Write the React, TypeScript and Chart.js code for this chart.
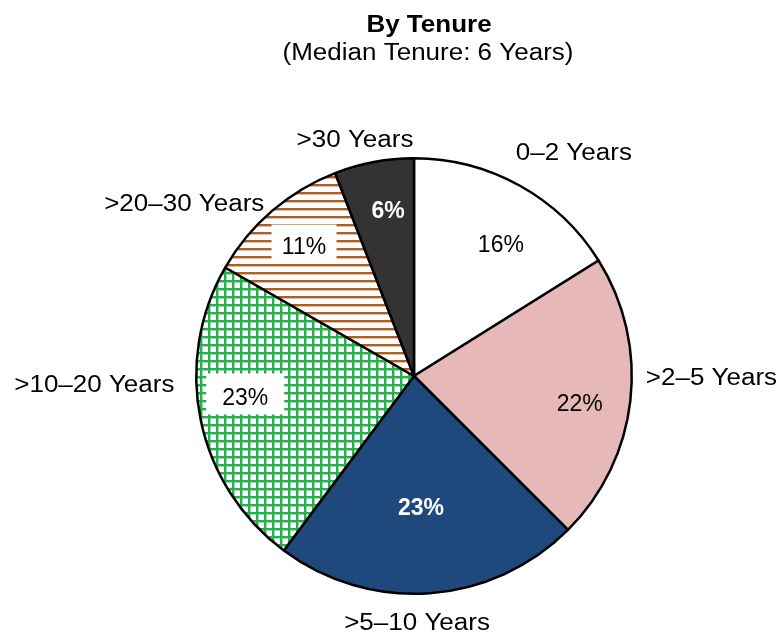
import React, { useEffect, useRef } from "react";
import { Chart, registerables } from "chart.js";

Chart.register(...registerables);

const categories = ["0–2 Years", ">2–5 Years", ">5–10 Years", ">10–20 Years", ">20–30 Years", ">30 Years"];
const shares = [16.1, 21.4, 22.7, 23.1, 10.8, 5.9];
const shareLabels = ["16%", "22%", "23%", "23%", "11%", "6%"];
const titleText = "By Tenure";
const subtitleText = "(Median Tenure: 6 Years)";

// layout of labels, as fractions of the pie radius from its centre (x, baseline y)
const catPos = [
  [0.734, -0.991],
  [1.366, 0.041],
  [0.014, 1.165],
  [-1.468, 0.073],
  [-1.055, -0.757],
  [-0.271, -1.05],
];
const pctPos = [
  [0.399, -0.569],
  [0.761, 0.161],
  [0.032, 0.638],
  [-0.775, 0.133],
  [-0.505, -0.56],
  [-0.119, -0.725],
];
const pctStyle = [
  { color: "#000", bold: false, box: null },
  { color: "#000", bold: false, box: null },
  { color: "#fff", bold: true, box: null },
  { color: "#000", bold: false, box: [78, 41] },
  { color: "#000", bold: false, box: [65, 37] },
  { color: "#fff", bold: true, box: null },
];

const FONT = "'Liberation Sans', Arial, Helvetica, sans-serif";
const SX = 1.13;

function gridPattern(ctx: CanvasRenderingContext2D) {
  const c = document.createElement("canvas");
  c.width = 8;
  c.height = 8;
  const g = c.getContext("2d")!;
  g.fillStyle = "#ffffff";
  g.fillRect(0, 0, 8, 8);
  g.fillStyle = "#9fdcb2";
  g.fillRect(2, 0, 1, 8);
  g.fillRect(0, 2, 8, 1);
  g.fillStyle = "#22b24c";
  g.fillRect(0, 0, 2, 8);
  g.fillRect(0, 0, 8, 2);
  return ctx.createPattern(c, "repeat")!;
}

function stripePattern(ctx: CanvasRenderingContext2D) {
  const c = document.createElement("canvas");
  c.width = 8;
  c.height = 8;
  const g = c.getContext("2d")!;
  g.fillStyle = "#ffffff";
  g.fillRect(0, 0, 8, 8);
  g.fillStyle = "#e4bd9c";
  g.fillRect(0, 2, 8, 1);
  g.fillStyle = "#ad5e22";
  g.fillRect(0, 0, 8, 2);
  return ctx.createPattern(c, "repeat")!;
}

function stretchText(ctx: CanvasRenderingContext2D, t: string, x: number, y: number, sx: number) {
  ctx.save();
  ctx.translate(x, y);
  ctx.scale(sx, 1);
  ctx.textAlign = "center";
  ctx.textBaseline = "alphabetic";
  ctx.fillText(t, 0, 0);
  ctx.restore();
}

const labelPlugin = {
  id: "labelPlugin",
  afterDraw(chart: any) {
    const ctx: CanvasRenderingContext2D = chart.ctx;
    const meta = chart.getDatasetMeta(0);
    const arc0 = meta.data[0];
    const cx = arc0.x;
    const cy = arc0.y;
    const r = arc0.outerRadius;
    ctx.save();
    ctx.fillStyle = "#000";
    ctx.font = `bold 23px ${FONT}`;
    stretchText(ctx, titleText, cx + 15, 32, SX);
    ctx.font = `23px ${FONT}`;
    stretchText(ctx, subtitleText, cx + 14, 60, SX);

    categories.forEach((c, i) => {
      ctx.fillStyle = "#000";
      ctx.font = `23px ${FONT}`;
      stretchText(ctx, c, cx + catPos[i][0] * r, cy + catPos[i][1] * r, SX);
    });

    shareLabels.forEach((p, i) => {
      const st = pctStyle[i];
      const x = cx + pctPos[i][0] * r;
      const y = cy + pctPos[i][1] * r;
      if (st.box) {
        ctx.fillStyle = "#ffffff";
        ctx.fillRect(x - st.box[0] / 2, y - 11 - st.box[1] / 2, st.box[0], st.box[1]);
      }
      ctx.fillStyle = st.color;
      ctx.font = `${st.bold ? "bold " : ""}23px ${FONT}`;
      ctx.textAlign = "center";
      ctx.textBaseline = "alphabetic";
      ctx.fillText(p, x, y);
    });
    ctx.restore();
  },
};

export default function App() {
  const ref = useRef<HTMLCanvasElement>(null);
  useEffect(() => {
    const canvas = ref.current!;
    const ctx = canvas.getContext("2d")!;
    const fills = ["#ffffff", "#e6b8b7", "#1f497d", gridPattern(ctx), stripePattern(ctx), "#333333"];
    const chart = new Chart(canvas, {
      type: "pie",
      data: {
        labels: categories,
        datasets: [
          {
            data: shares,
            backgroundColor: fills as any,
            borderColor: "#000000",
            borderWidth: 2.5,
          },
        ],
      },
      options: {
        responsive: false,
        animation: false,
        devicePixelRatio: 1,
        layout: { padding: { top: 157, bottom: 42, left: 114, right: 68 } },
        plugins: {
          legend: { display: false },
          title: { display: false },
          tooltip: { enabled: false },
        },
      },
      plugins: [labelPlugin],
    });
    return () => chart.destroy();
  }, []);
  return (
    <div style={{ position: "absolute", left: 0, top: 0, width: 782, height: 637 }}>
      <canvas ref={ref} width={782} height={637} style={{ display: "block" }} />
    </div>
  );
}
